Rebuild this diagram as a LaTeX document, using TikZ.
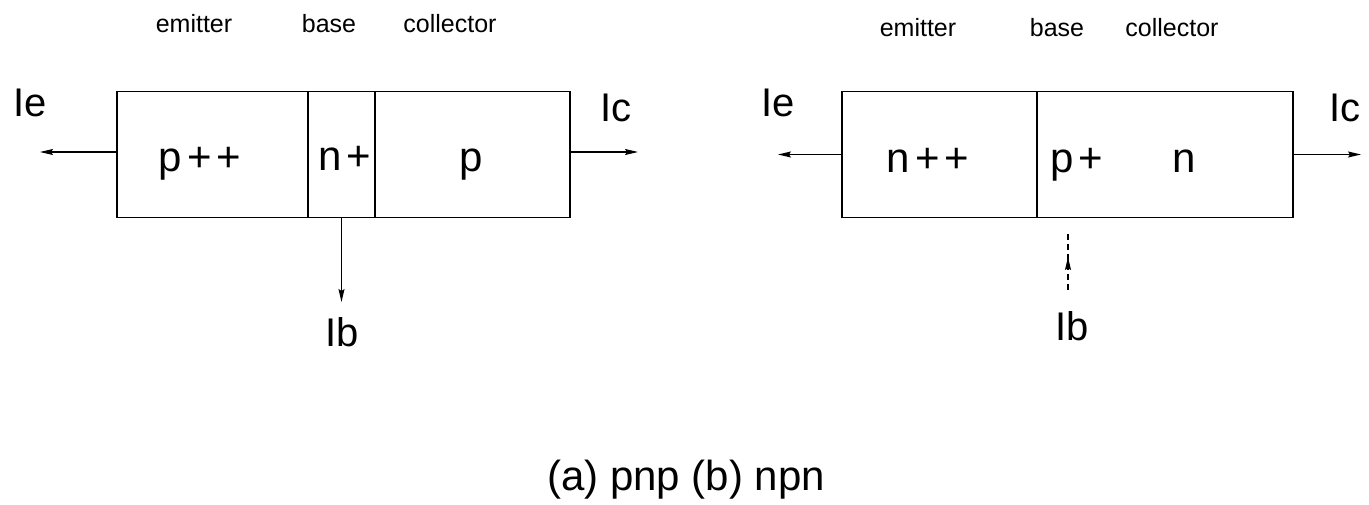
\documentclass[tikz,border=0pt]{standalone}
\usepackage{fontspec}
\setmainfont{Liberation Sans}
\newfontfamily\regfont[LetterSpace=12]{Liberation Sans}
\usetikzlibrary{arrows.meta}
\begin{document}
\begin{tikzpicture}[x=1pt,y=-1pt,
  wire/.style={line width=1.2pt},
  arr/.style={wire,-{Stealth[length=13pt,width=6pt,inset=2pt]}},
  region/.style={draw,line width=1.2pt,inner sep=0pt,minimum height=126pt},
  rlbl/.style={font=\regfont\fontsize{42}{50}\selectfont,inner sep=0pt,anchor=base},
  lbl/.style={font=\fontsize{40}{48}\selectfont,inner sep=0pt,anchor=base},
  head/.style={font=\fontsize{25}{30}\selectfont,inner sep=0pt,anchor=base}]
\useasboundingbox (0,0) rectangle (1369,505);
% ---- (a) pnp ----
\node[region,minimum width=191pt] (le) at (212.5,154.5) {};
\node[region,minimum width=67pt]  (lb) at (341.5,154.5) {};
\node[region,minimum width=195pt] (lc) at (472.5,154.5) {};
\node[rlbl] (lpe) at (200,172) {p++};
\node[rlbl] (lnb) at (345,171) {n+};
\node[rlbl] (lpc) at (471,172) {p};
\node[head] (lhe) at (194,33) {emitter};
\node[head] (lhb) at (329,33) {base};
\node[head] (lhc) at (450,33) {collector};
\node[lbl] (lie) at (30,117) {Ie};
\node[lbl] (lic) at (616,122) {Ic};
\node[lbl] (lib) at (342,346) {Ib};
\coordinate (leend) at (40,152);
\coordinate (lcend) at (638,152);
\coordinate (lbend) at (341.5,302);
\draw[arr] (le.west |- leend) -- (leend);
\draw[arr] (lc.east |- lcend) -- (lcend);
\draw[arr] (lb.south) -- (lbend);
% ---- (b) npn ----
\node[region,minimum width=195pt] (ne) at (939.5,154.5) {};
\node[region,minimum width=256pt] (nb) at (1165,154.5) {};
\node[rlbl] (rne) at (928,173) {n++};
\node[rlbl] (rpb) at (1077,173) {p+};
\node[rlbl] (rnc) at (1184,173) {n};
\node[head] (rhe) at (918,37) {emitter};
\node[head] (rhb) at (1057,37) {base};
\node[head] (rhc) at (1172,37) {collector};
\node[lbl] (rie) at (778,117) {Ie};
\node[lbl] (ric) at (1345,122) {Ic};
\node[lbl] (rib) at (1072,340) {Ib};
\coordinate (neend) at (778,154.5);
\coordinate (ncend) at (1361,154.5);
\coordinate (rbtop) at (1068,233);
\coordinate (rbmid) at (1068,257);
\coordinate (rbarr) at (1068,270);
\coordinate (rbbot) at (1068,290);
\draw[arr] (ne.west) -- (neend);
\draw[arr] (nb.east) -- (ncend);
\draw[wire,dash pattern=on 6pt off 4pt] (rbbot) -- (rbtop);
\draw[arr] (rbarr) -- (rbmid);
% ---- caption ----
\node[lbl,font=\fontsize{42}{50}\selectfont] (cap) at (686,490) {(a) pnp (b) npn};
\end{tikzpicture}
\end{document}
